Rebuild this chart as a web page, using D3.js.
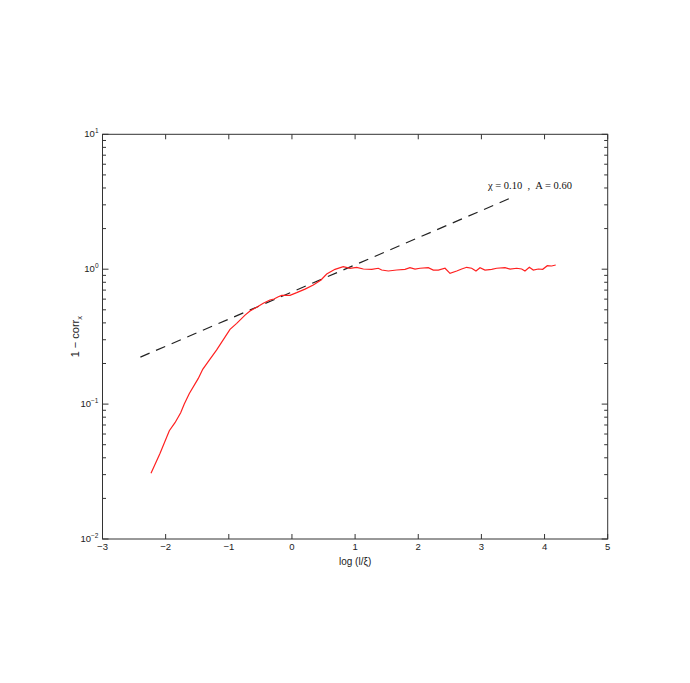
<!DOCTYPE html>
<html><head><meta charset="utf-8">
<script src="https://cdn.jsdelivr.net/npm/d3@7"></script>
<style>body{margin:0;background:#fff}</style>
</head><body>
<svg id="c" width="690" height="683"></svg>
<script>
// data
const curveX = [-2.232,-2.090,-1.942,-1.852,-1.762,-1.705,-1.625,-1.483,-1.413,-1.309,-1.192,-0.981,-0.875,-0.743,-0.664,-0.558,-0.454,-0.349,-0.284,-0.216,-0.162,-0.031,0.075,0.207,0.338,0.460,0.550,0.682,0.813,0.919,1.025,1.130,1.263,1.367,1.421,1.526,1.659,1.790,1.869,1.949,2.028,2.159,2.238,2.318,2.424,2.503,2.609,2.688,2.767,2.846,2.914,2.978,3.057,3.163,3.242,3.374,3.453,3.559,3.638,3.690,3.759,3.822,3.901,3.971,4.044,4.113,4.177];
const curveY = [0.0307,0.0431,0.0635,0.0728,0.0863,0.100,0.120,0.155,0.181,0.212,0.252,0.358,0.397,0.457,0.490,0.522,0.559,0.591,0.601,0.625,0.640,0.640,0.670,0.712,0.764,0.832,0.921,0.998,1.043,1.016,1.033,1.003,0.998,1.016,0.986,0.970,0.986,0.998,1.026,1.003,1.016,1.026,0.986,0.986,1.016,0.932,0.970,1.003,1.033,1.016,0.970,1.026,0.986,0.998,1.016,1.026,1.003,1.016,1.003,0.970,1.033,0.986,1.003,0.998,1.062,1.056,1.074];
const fitX = [-2.4, 3.5];
const fitY = [0.223, 3.43];
const xTicks = [-3,-2,-1,0,1,2,3,4,5];
const yTickExps = [-2,-1,0,1];
const annotation = "\u03C7 = 0.10  ,  A = 0.60";

const svg = d3.select("#c");
const L = 102.5, R = 607.7, T = 134.3, B = 539;
const x = d3.scaleLinear().domain([-3,5]).range([L,R]);
const y = d3.scaleLog().domain([0.01,10]).range([B,T]);
const axCol = "#333";

// frame
svg.append("rect").attr("x",L).attr("y",T).attr("width",R-L).attr("height",B-T)
  .attr("fill","none").attr("stroke",axCol).attr("stroke-width",1);

// x ticks (bottom & top, inward)
const g = svg.append("g").attr("stroke",axCol).attr("stroke-width",1);
xTicks.forEach(t=>{
  const px = x(t);
  g.append("line").attr("x1",px).attr("x2",px).attr("y1",B).attr("y2",B-5);
  g.append("line").attr("x1",px).attr("x2",px).attr("y1",T).attr("y2",T+5);
});
// y ticks major + minor, both sides
yTickExps.forEach(e=>{
  const py = y(Math.pow(10,e));
  g.append("line").attr("x1",L).attr("x2",L+6).attr("y1",py).attr("y2",py);
  g.append("line").attr("x1",R).attr("x2",R-6).attr("y1",py).attr("y2",py);
  if (e<1) for (let k=2;k<=9;k++){
    const pm = y(k*Math.pow(10,e));
    g.append("line").attr("x1",L).attr("x2",L+3.5).attr("y1",pm).attr("y2",pm);
    g.append("line").attr("x1",R).attr("x2",R-3.5).attr("y1",pm).attr("y2",pm);
  }
});

const font = "Liberation Sans, Arial, Helvetica, sans-serif";
// x tick labels
xTicks.forEach(t=>{
  svg.append("text").attr("x",x(t)).attr("y",B+11).attr("text-anchor","middle")
    .attr("font-family",font).attr("font-size",9.5).attr("fill","#222")
    .text(t<0 ? "\u2212"+Math.abs(t) : String(t));
});
// y tick labels
yTickExps.forEach(e=>{
  const py = y(Math.pow(10,e));
  const tx = svg.append("text").attr("x",L-4).attr("y",py+3).attr("text-anchor","end")
    .attr("font-family",font).attr("font-size",9.5).attr("fill","#222");
  tx.append("tspan").text("10");
  tx.append("tspan").attr("dy",-4).attr("font-size",6.5).text(e<0 ? "\u2212"+Math.abs(e) : String(e));
});

// axis labels
svg.append("text").attr("x",(L+R)/2).attr("y",565).attr("text-anchor","middle")
  .attr("font-family",font).attr("font-size",10).attr("fill","#222").text("log (l/\u03BE)");
const yl = svg.append("text").attr("transform","translate(79,"+((T+B)/2)+") rotate(-90)")
  .attr("text-anchor","middle").attr("font-family",font).attr("font-size",11).attr("fill","#222");
yl.append("tspan").text("1 \u2212 corr");
yl.append("tspan").attr("font-size",7.5).attr("dy",3).text("x");

// fit dashed line
const fitData = fitX.map((v,i)=>[v,fitY[i]]);
const line = d3.line().x(d=>x(d[0])).y(d=>y(d[1]));
svg.append("path").datum(fitData).attr("d",line).attr("fill","none")
  .attr("stroke","#222").attr("stroke-width",1.2).attr("stroke-dasharray","10,7");

// red curve
const cData = curveX.map((v,i)=>[v,curveY[i]]);
svg.append("path").datum(cData).attr("d",line).attr("fill","none")
  .attr("stroke","#ff2020").attr("stroke-width",1.2);

// annotation
svg.append("text").attr("x",488).attr("y",189).attr("font-family","Liberation Serif, Times New Roman, serif")
  .attr("font-size",10.5).attr("fill","#111").attr("xml:space","preserve").style("white-space","pre").text(annotation);
</script>
</body></html>
